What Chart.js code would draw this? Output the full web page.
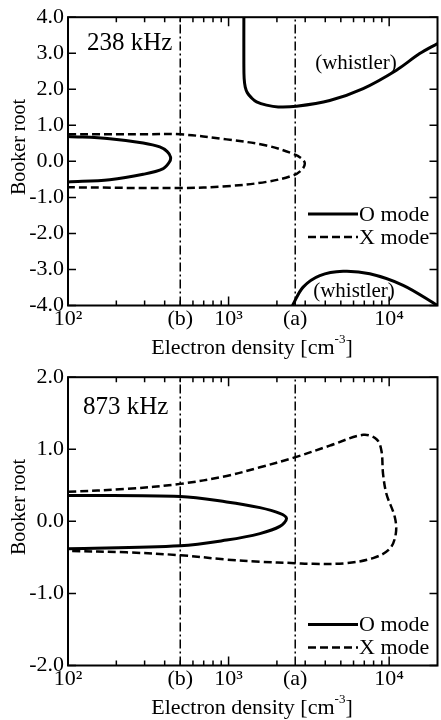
<!DOCTYPE html>
<html>
<head>
<meta charset="utf-8">
<script src="https://cdn.jsdelivr.net/npm/chart.js@4.4.1/dist/chart.umd.min.js"></script>
<style>
body { margin: 0; background: #fff; }
canvas { display: block; }
</style>
</head>
<body>
<canvas id="chart238" width="441" height="360"></canvas>
<canvas id="chart873" width="441" height="360"></canvas>
<script>
// x axis: electron density, log ticks
const xTickValues = [100, 200, 300, 400, 500, 600, 700, 800, 900, 1000, 2000, 2600, 3000, 4000, 5000, 6000, 7000, 8000, 9000, 10000, 20000];
const xTickLabels = { 100: '10²', 500: '(b)', 1000: '10³', 2600: '(a)', 10000: '10⁴' };
const xMajor = [100, 1000, 10000];
const markerB = 500;
const markerA = 2600;

// 238 kHz panel
const o238NoseN = [100, 182, 294, 373, 415, 435, 428, 392, 294, 182, 100];
const o238NoseY = [0.69, 0.63, 0.51, 0.40, 0.27, 0.12, -0.02, -0.20, -0.36, -0.51, -0.57];
const o238UpperN = [1245, 1245, 1250, 1270, 1310, 1390, 1494, 1722, 2036, 2650, 4266, 6890, 11100, 15490, 20000];
const o238UpperY = [4.0, 2.7, 2.3, 2.06, 1.9, 1.76, 1.65, 1.56, 1.51, 1.53, 1.69, 2.02, 2.53, 2.99, 3.27];
const o238LowerN = [2500, 2912, 3700, 5165, 7570, 12220, 20000];
const o238LowerY = [-4.0, -3.49, -3.17, -3.05, -3.12, -3.44, -4.0];
const x238N = [100, 300, 500, 973, 1720, 2523, 2850, 2985, 2850, 2523, 1720, 973, 500, 100];
const x238Y = [0.75, 0.75, 0.75, 0.61, 0.44, 0.21, 0.08, -0.06, -0.24, -0.39, -0.57, -0.69, -0.74, -0.72];

// 873 kHz panel
const o873N = [100, 500, 973, 1567, 2085, 2295, 2085, 1567, 973, 500, 100];
const o873Y = [0.36, 0.345, 0.27, 0.19, 0.11, 0.04, -0.07, -0.17, -0.26, -0.34, -0.38];
const x873N = [100, 232, 500, 973, 1567, 2523, 4266, 6890, 8340, 8950, 9160, 9620, 10840, 11000, 10090, 7940, 5420, 3360, 2590, 1567, 973, 500, 232, 100];
const x873Y = [0.41, 0.45, 0.52, 0.63, 0.75, 0.88, 1.05, 1.2, 1.14, 0.98, 0.66, 0.38, 0.06, -0.17, -0.38, -0.51, -0.58, -0.59, -0.58, -0.56, -0.53, -0.47, -0.43, -0.41];

const serif = "'Liberation Serif', 'DejaVu Serif', serif";

function pts(ns, ys) {
    return ns.map((n, i) => ({ x: n, y: ys[i] }));
}

function solid(ns, ys, label) {
    return { data: pts(ns, ys), label: label, borderColor: '#000', borderWidth: 3, tension: 0.35 };
}

function dashed(ns, ys, label) {
    return { data: pts(ns, ys), label: label, borderColor: '#000', borderWidth: 2.5, borderDash: [8, 4], tension: 0.35 };
}

function marker(n, yMin, yMax) {
    return { data: [{ x: n, y: yMin }, { x: n, y: yMax }], borderColor: '#000', borderWidth: 1.5, borderDash: [9, 3, 2, 3], tension: 0 };
}

// ticks on all four sides, frame, legend, titles and notes
const decor = {
    id: 'decor',
    afterDatasetsDraw(chart, args, opts) {
        const { ctx, chartArea: a, scales: { x, y } } = chart;
        ctx.save();
        ctx.strokeStyle = '#000';
        ctx.lineWidth = 1.5;
        ctx.setLineDash([]);
        ctx.beginPath();
        x.ticks.forEach(t => {
            if (t.value === markerA || t.value >= 20000) return;
            const px = x.getPixelForValue(t.value);
            const len = xMajor.includes(t.value) ? 9 : 5;
            ctx.moveTo(px, a.bottom); ctx.lineTo(px, a.bottom - len);
            ctx.moveTo(px, a.top); ctx.lineTo(px, a.top + len);
        });
        y.ticks.forEach(t => {
            const py = y.getPixelForValue(t.value);
            ctx.moveTo(a.left, py); ctx.lineTo(a.left + 8, py);
            ctx.moveTo(a.right, py); ctx.lineTo(a.right - 8, py);
        });
        ctx.stroke();
        ctx.lineWidth = 2;
        ctx.strokeRect(a.left, a.top, a.right - a.left, a.bottom - a.top);

        // legend
        ctx.fillStyle = '#000';
        ctx.font = '22px ' + serif;
        ctx.textBaseline = 'middle';
        let ly = a.bottom - opts.legendBottom;
        chart.data.datasets.filter(d => d.label).forEach(d => {
            ctx.lineWidth = d.borderWidth;
            ctx.setLineDash(d.borderDash || []);
            ctx.beginPath();
            ctx.moveTo(308, ly); ctx.lineTo(358, ly);
            ctx.stroke();
            ctx.setLineDash([]);
            ctx.textAlign = 'left';
            ctx.fillText(d.label, 359, ly + 1);
            ly += 23;
        });

        // notes
        opts.notes.forEach(n => {
            ctx.font = n.size + 'px ' + serif;
            ctx.textAlign = n.align || 'center';
            ctx.fillText(n.text, n.x, n.y);
        });

        // axis titles
        ctx.font = '20px ' + serif;
        ctx.textAlign = 'center';
        ctx.save();
        ctx.translate(20, 147);
        ctx.rotate(-Math.PI / 2);
        ctx.fillText('Booker root', 0, 0);
        ctx.restore();

        ctx.font = '22px ' + serif;
        const main = 'Electron density [cm';
        const sup = '-3';
        const wMain = ctx.measureText(main).width;
        ctx.font = '13px ' + serif;
        const wSup = ctx.measureText(sup).width;
        ctx.font = '22px ' + serif;
        const wEnd = ctx.measureText(']').width;
        let tx = 252 - (wMain + wSup + wEnd) / 2;
        ctx.textAlign = 'left';
        ctx.fillText(main, tx, 348);
        ctx.font = '13px ' + serif;
        ctx.fillText(sup, tx + wMain, 340);
        ctx.font = '22px ' + serif;
        ctx.fillText(']', tx + wMain + wSup, 348);
        ctx.restore();
    }
};

function makeChart(id, datasets, yMin, yMax, legendBottom, notes) {
    return new Chart(document.getElementById(id), {
        type: 'scatter',
        data: { datasets: datasets },
        options: {
            responsive: false,
            animation: false,
            showLine: true,
            layout: { padding: { top: 16, right: 3.5, left: 0, bottom: 0 } },
            elements: { point: { radius: 0 }, line: { fill: false } },
            plugins: {
                legend: { display: false },
                tooltip: { enabled: false },
                decor: { legendBottom: legendBottom, notes: notes }
            },
            scales: {
                x: {
                    type: 'logarithmic',
                    min: 100,
                    max: 20000,
                    grid: { display: false, drawTicks: false },
                    border: { display: false },
                    afterBuildTicks: s => { s.ticks = xTickValues.map(v => ({ value: v })); },
                    afterFit: s => { s.height = 54.5; },
                    ticks: {
                        autoSkip: false,
                        maxRotation: 0,
                        padding: 1,
                        color: '#000',
                        font: { family: serif, size: 22 },
                        callback: v => xTickLabels[v] || ''
                    }
                },
                y: {
                    min: yMin,
                    max: yMax,
                    grid: { display: false, drawTicks: false },
                    border: { display: false },
                    afterFit: s => { s.width = 68; },
                    ticks: {
                        stepSize: 1,
                        padding: 4,
                        color: '#000',
                        font: { family: serif, size: 22 },
                        callback: v => v.toFixed(1)
                    }
                }
            }
        },
        plugins: [decor]
    });
}

makeChart('chart238', [
    solid(o238NoseN, o238NoseY, 'O mode'),
    dashed(x238N, x238Y, 'X mode'),
    solid(o238UpperN, o238UpperY),
    solid(o238LowerN, o238LowerY),
    marker(markerB, -4, 4),
    marker(markerA, -4, 4)
], -4, 4, 91.5, [
    { text: '238 kHz', x: 87, y: 43, size: 25, align: 'left' },
    { text: '(whistler)', x: 356, y: 63, size: 21 },
    { text: '(whistler)', x: 354, y: 291, size: 21 }
]);

makeChart('chart873', [
    solid(o873N, o873Y, 'O mode'),
    dashed(x873N, x873Y, 'X mode'),
    marker(markerB, -2, 2),
    marker(markerA, -2, 2)
], -2, 2, 41, [
    { text: '873 kHz', x: 83, y: 47, size: 25, align: 'left' }
]);
</script>
</body>
</html>
